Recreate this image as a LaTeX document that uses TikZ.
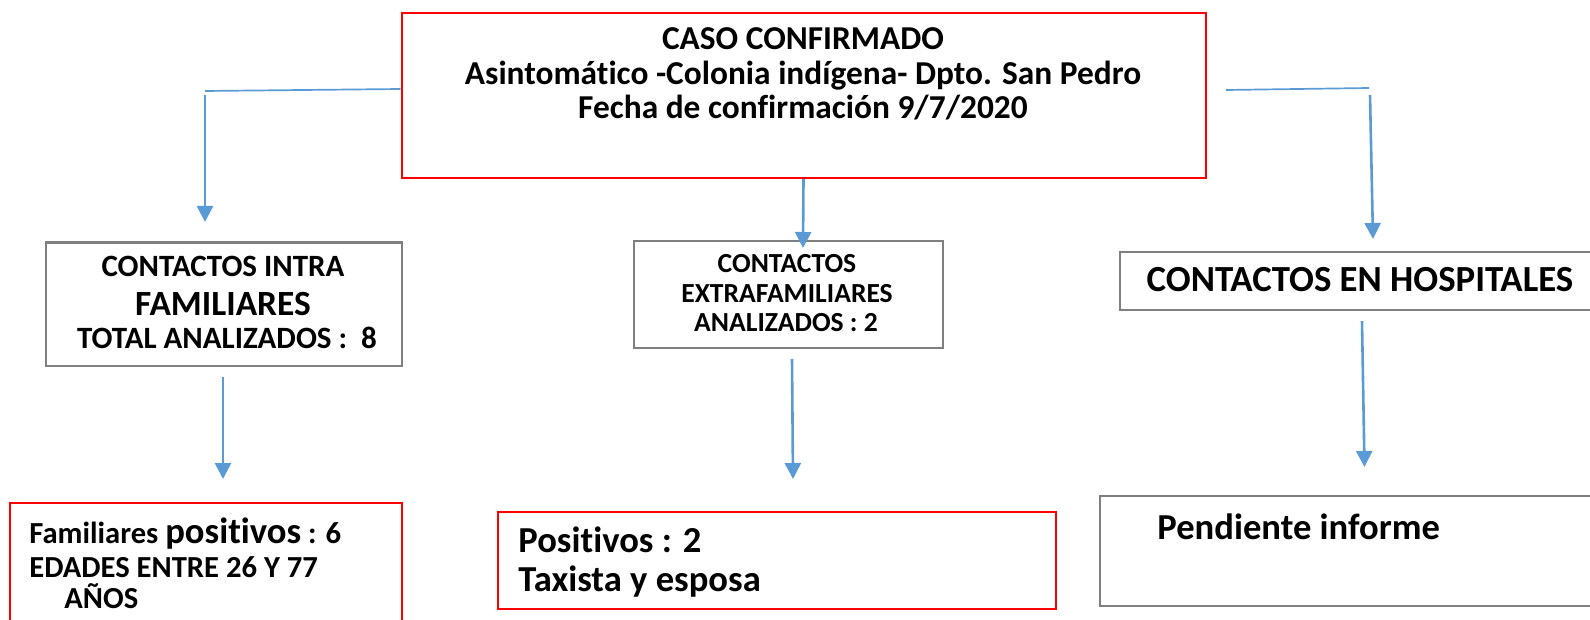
\documentclass[tikz,border=0pt]{standalone}
\usepackage{fontspec}
\setmainfont{Carlito}[Ligatures={NoCommon,NoRare}]
\usetikzlibrary{arrows.meta,positioning}

\definecolor{linkblue}{HTML}{5B9BD5}
\definecolor{boxgray}{HTML}{7F7F7F}
\definecolor{boxred}{HTML}{FF0000}

\tikzset{
  redbox/.style={draw=boxred, line width=1pt, anchor=north west, inner sep=0pt},
  graybox/.style={draw=boxgray, line width=1.2pt, anchor=north west, inner sep=0pt},
  txt/.style={anchor=base, inner sep=0pt},
  ltxt/.style={anchor=base west, inner sep=0pt},
  link/.style={linkblue, line width=0.85pt},
  arrow/.style={linkblue, line width=1.3pt, -{Triangle[length=8pt, width=8pt]}}
}

\begin{document}
\begin{tikzpicture}[x=0.5pt, y=-0.5pt, font=\bfseries]
    \useasboundingbox (0,0) rectangle (1590,620);
    \clip (0,0) rectangle (1590,620);

    % The boxes (the picture is in pixels of the original slide).
    \node[redbox, minimum width=402pt, minimum height=82.5pt] (caso) at (400.5,12) {};
    \node[graybox, minimum width=177.75pt, minimum height=61.75pt] (intra) at (45,241.5) {};
    \node[graybox, minimum width=154.25pt, minimum height=53.5pt] (extra) at (633,240) {};
    \node[graybox, minimum width=250pt, minimum height=29pt] (hosp) at (1119,251) {};
    \node[redbox, minimum width=195.75pt, minimum height=70pt] (famPos) at (9,502) {};
    \node[redbox, minimum width=279pt, minimum height=48.5pt] (taxi) at (497,511) {};
    \node[graybox, minimum width=252pt, minimum height=55pt] (pend) at (1099,495) {};

    % Text of the confirmed case.
    \begin{scope}[font=\bfseries\fontsize{16.7}{20}\selectfont]
        \node[txt] (caso1) at (803,50) {CASO CONFIRMADO};
        \node[txt] (caso2) at (803,85) {Asintomático -Colonia indígena- Dpto. San Pedro};
        \node[txt] (caso3) at (803,119) {Fecha de confirmación 9/7/2020};
    \end{scope}

    % Text of the three groups of contacts.
    \node[txt, font=\bfseries\fontsize{15.5}{18}\selectfont] (intra1) at (223,277) {CONTACTOS INTRA};
    \node[txt, font=\bfseries\fontsize{17.7}{20}\selectfont] (intra2) at (223,315) {FAMILIARES};
    \node[txt, font=\bfseries\fontsize{15.5}{18}\selectfont] (intra3) at (227,348) {TOTAL ANALIZADOS :~~8};
    \begin{scope}[font=\bfseries\fontsize{13.8}{16}\selectfont]
        \node[txt] (extra1) at (787,273) {CONTACTOS};
        \node[txt] (extra2) at (787,302) {EXTRAFAMILIARES};
        \node[txt] (extra3) at (786,331) {ANALIZADOS : 2};
    \end{scope}
    \node[txt, font=\bfseries\fontsize{18.4}{21}\selectfont] (hosp1) at (1360,292) {CONTACTOS EN HOSPITALES};

    % Text of the results.
    \node[ltxt, font=\bfseries\fontsize{15.3}{18}\selectfont] (fam1) at (29,543)
        {Familiares {\fontsize{18.3}{20}\selectfont positivos} : 6};
    \node[ltxt, font=\bfseries\fontsize{15.3}{18}\selectfont] (fam2) at (29,577) {EDADES ENTRE 26 Y 77};
    \node[ltxt, font=\bfseries\fontsize{15.3}{18}\selectfont] (fam3) at (64,608) {AÑOS};
    \begin{scope}[font=\bfseries\fontsize{18.3}{21}\selectfont]
        \node[ltxt] (taxi1) at (518,552) {Positivos : 2};
        \node[ltxt] (taxi2) at (518,591) {Taxista y esposa};
        \node[ltxt] (pend1) at (1157,539) {Pendiente informe};
    \end{scope}

    % Ends of the loose connectors.
    \coordinate (lTurn) at (205,91);
    \coordinate (lTop) at (205,95);
    \coordinate (lTip) at (205,222);
    \coordinate (rStart) at (1226,90);
    \coordinate (rTurn) at (1369,88);
    \coordinate (rTop) at (1370,95);
    \coordinate (rTip) at (1373,239);
    \coordinate (mTip) at (803,248);
    \coordinate (iTop) at (223,377);
    \coordinate (iTip) at (223,479);
    \coordinate (eTop) at (792,359);
    \coordinate (eTip) at (793,479);
    \coordinate (hTop) at (1362,321);
    \coordinate (hTip) at (1364.5,467);

    % Connectors from the confirmed case.
    \draw[link] ([yshift=3.25pt]caso.west) -- (lTurn);
    \draw[arrow] (lTop) -- (lTip);
    \draw[arrow] (caso.south) -- (mTip);
    \draw[link] (rStart) -- (rTurn);
    \draw[arrow] (rTop) -- (rTip);

    % Connectors down to the results.
    \draw[arrow] (iTop) -- (iTip);
    \draw[arrow] (eTop) -- (eTip);
    \draw[arrow] (hTop) -- (hTip);
\end{tikzpicture}
\end{document}
